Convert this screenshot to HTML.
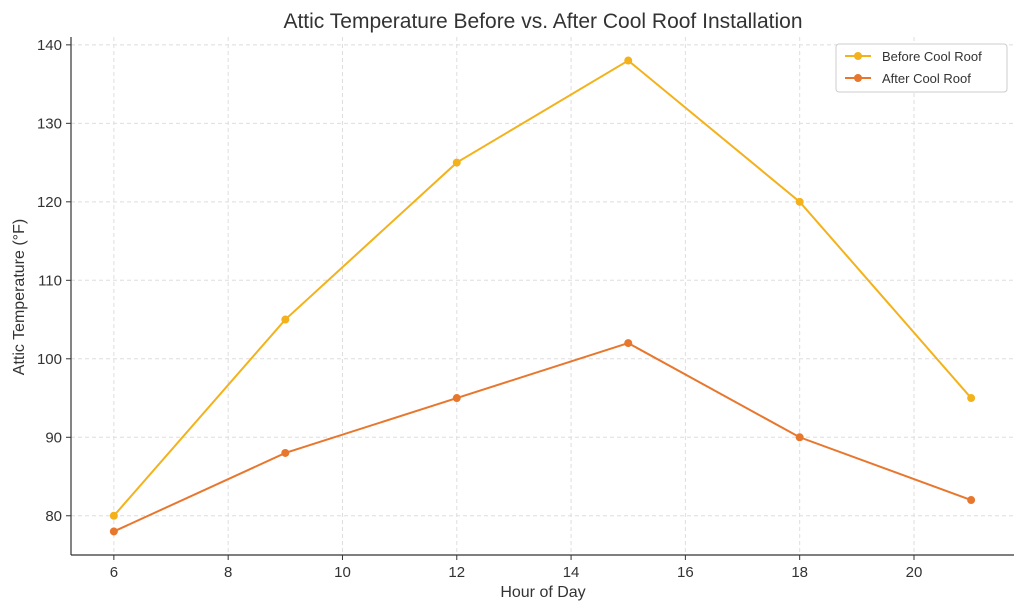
<!DOCTYPE html>
<html><head><meta charset="utf-8"><style>
body{margin:0;background:#fff;font-family:"Liberation Sans","DejaVu Sans",sans-serif;}
svg text{fill:#333;}
</style></head><body>
<svg id="chart" width="1024" height="611" xmlns="http://www.w3.org/2000/svg">
<text x="543" y="28" font-size="21" text-anchor="middle">Attic Temperature Before vs. After Cool Roof Installation</text>
<g id="grid"></g><g id="axes"></g><g id="series"></g>
<text x="543" y="597" font-size="16" text-anchor="middle">Hour of Day</text>
<text transform="translate(24,297) rotate(-90)" font-size="16" text-anchor="middle">Attic Temperature (°F)</text>
<g>
<rect x="836" y="44" width="171" height="48" rx="3" fill="#fff" stroke="#ccc"/>
<line x1="845" y1="56" x2="871" y2="56" stroke="#f3b21b" stroke-width="2"/><circle cx="858" cy="56" r="4" fill="#f3b21b"/>
<text x="882" y="61" font-size="13">Before Cool Roof</text>
<line x1="845" y1="78" x2="871" y2="78" stroke="#e8772e" stroke-width="2"/><circle cx="858" cy="78" r="4" fill="#e8772e"/>
<text x="882" y="83" font-size="13">After Cool Roof</text>
</g>
</svg>
<script>
const hours=[6,9,12,15,18,21];
const before=[80,105,125,138,120,95];
const after=[78,88,95,102,90,82];
const xTicks=[6,8,10,12,14,16,18,20];
const yTicks=[80,90,100,110,120,130,140];
const L=71,R=1014,T=37,B=555,xmin=5.25,xmax=21.75,ymin=75,ymax=141;
const NS="http://www.w3.org/2000/svg";
function X(v){return L+(v-xmin)/(xmax-xmin)*(R-L);}
function Y(v){return B-(v-ymin)/(ymax-ymin)*(B-T);}
function mk(t,a,p){const e=document.createElementNS(NS,t);for(const k in a)e.setAttribute(k,a[k]);p.appendChild(e);return e;}
const g=document.getElementById('grid'),ax=document.getElementById('axes'),s=document.getElementById('series');
xTicks.forEach(v=>{const x=X(v);
const l=mk('line',{x1:x,x2:x,y1:T,y2:B,stroke:'#dedede','stroke-dasharray':'4,3'},g);


mk('line',{x1:x,x2:x,y1:B,y2:B+5,stroke:'#333'},ax);
const t=mk('text',{x:x,y:B+22,'font-size':15,'text-anchor':'middle'},ax);t.textContent=v;

});
yTicks.forEach(v=>{const y=Y(v);
const l=mk('line',{x1:L,x2:R,y1:y,y2:y,stroke:'#dedede','stroke-dasharray':'4,3'},g);


mk('line',{x1:L-5,x2:L,y1:y,y2:y,stroke:'#333'},ax);
const t=mk('text',{x:L-9,y:y+5,'font-size':15,'text-anchor':'end'},ax);t.textContent=v;

});
mk('line',{x1:L,x2:L,y1:T,y2:B,stroke:'#333','stroke-width':1.2},ax);
mk('line',{x1:L,x2:R,y1:B,y2:B,stroke:'#333','stroke-width':1.2},ax);
[[before,'#f3b21b','before'],[after,'#e8772e','after']].forEach(([d,c,n])=>{
const p=mk('polyline',{points:hours.map((h,i)=>X(h)+','+Y(d[i])).join(' '),fill:'none',stroke:c,'stroke-width':2},s);


hours.forEach((h,i)=>{const m=mk('circle',{cx:X(h),cy:Y(d[i]),r:4,fill:c},s);

});});
</script>
</body></html>
